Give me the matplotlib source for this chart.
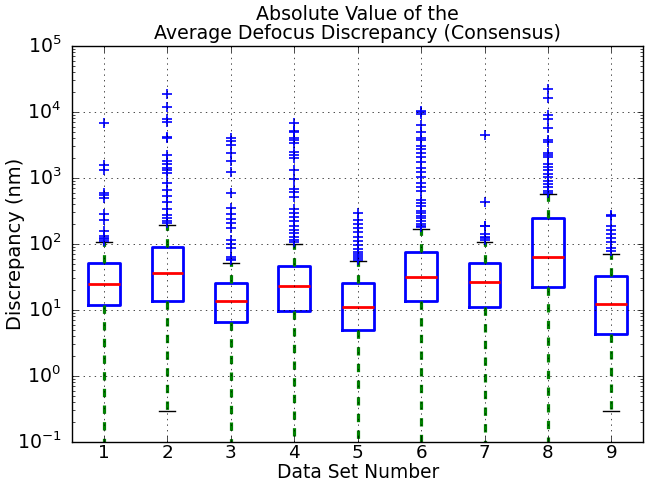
import matplotlib
matplotlib.use("Agg")
import matplotlib.pyplot as plt

plt.style.use("classic")

# box statistics (nm)
labels = ["1", "2", "3", "4", "5", "6", "7", "8", "9"]
q1 = [11.9, 13.8, 6.6, 9.5, 5.0, 13.7, 11.1, 22.0, 4.3]
med = [25.0, 36.0, 13.6, 22.9, 11.0, 32.0, 26.3, 63.0, 12.2]
q3 = [51.5, 91.0, 26.0, 46.0, 25.4, 76.0, 51.5, 245.0, 32.7]
whis_lo = [0.01, 0.29, 0.01, 0.01, 0.01, 0.01, 0.01, 0.01, 0.29]
whis_hi = [107.0, 194.0, 52.0, 100.0, 55.0, 171.0, 108.0, 570.0, 70.0]
fliers = [
    [6900, 1550, 1300, 600, 550, 500, 285, 230, 158, 132, 125, 118, 112],
    [18700, 12000, 7800, 7100, 4200, 4000, 2250, 1800, 1650, 1400, 1300,
     1180, 850, 660, 530, 430, 340, 275, 245, 225, 210],
    [4000, 3650, 3150, 2400, 1780, 1220, 590, 350, 280, 240, 210, 172, 115,
     100, 86, 64, 60, 58],
    [6900, 5200, 4880, 4090, 3720, 3350, 2450, 2220, 1980, 1320, 960, 680,
     620, 510, 335, 290, 260, 225, 190, 165, 145, 127, 115, 106],
    [290, 230, 200, 172, 150, 128, 110, 97, 83, 75, 70, 66, 62, 58],
    [10300, 9800, 9300, 6300, 4900, 4090, 3800, 3000, 2720, 2370, 2100, 1770,
     1410, 1250, 1030, 850, 730, 640, 470, 420, 370, 320, 290, 265, 245, 220,
     200, 185, 178],
    [4450, 425, 190, 185, 140, 128, 121, 114],
    [22000, 16000, 8900, 7700, 5800, 3800, 3550, 2400, 2220, 2050, 1650, 1470,
     1300, 1150, 1030, 910, 810, 720, 640, 600],
    [275, 265, 185, 165, 140, 123, 108, 86, 78],
]

stats = []
for i in range(len(labels)):
    stats.append(dict(label=labels[i], q1=q1[i], med=med[i], q3=q3[i],
                      whislo=whis_lo[i], whishi=whis_hi[i], fliers=fliers[i]))

fig = plt.figure(figsize=(6.45, 4.83), dpi=100, facecolor="white")
ax = fig.add_axes([0.112, 0.085, 0.885, 0.820])

ax.bxp(stats, widths=0.5,
       boxprops=dict(color="blue", linewidth=2),
       medianprops=dict(color="red", linewidth=2),
       whiskerprops=dict(color="green", linestyle="--", linewidth=2.3),
       capprops=dict(color="black", linewidth=1),
       flierprops=dict(marker="+", markeredgecolor="blue", markersize=7,
                       markeredgewidth=1.2, linestyle="none"))

ax.set_yscale("log")
ax.set_ylim(0.1, 1e5)
ax.set_xlim(0.5, 9.5)
ax.grid(True, which="major", linestyle=":", color="black", linewidth=0.5)
ax.tick_params(axis="y", which="major", pad=8, labelsize=13.6)
ax.tick_params(axis="x", which="major", pad=1.5, labelsize=13.2)

ax.set_title("Absolute Value of the\nAverage Defocus Discrepancy (Consensus)",
             fontsize=13.7, linespacing=1.0)
ax.set_xlabel("Data Set Number", fontsize=13.4)
ax.xaxis.set_label_coords(0.5, -0.053)
ax.set_ylabel("Discrepancy (nm)", fontsize=14)
ax.yaxis.set_label_coords(-0.083, 0.5)

fig.savefig("out.png", dpi=100, facecolor="white")
